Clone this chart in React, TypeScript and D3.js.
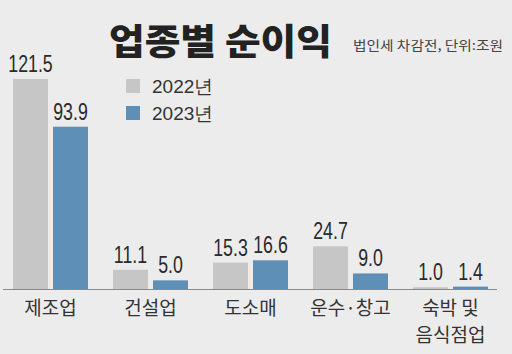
import React, { useEffect, useRef } from "react";
import * as d3 from "d3";

const categories = ["제조업", "건설업", "도소매", "운수·창고", "숙박 및\n음식점업"];
const series = ["2022년", "2023년"];
const values2022 = [121.5, 11.1, 15.3, 24.7, 1.0];
const values2023 = [93.9, 5.0, 16.6, 9.0, 1.4];
const colors = ["#c6c6c6", "#5e8fb6"];

export default function App() {
  const ref = useRef<SVGSVGElement>(null);

  useEffect(() => {
    document.body.style.margin = "0";
    const svg = d3.select(ref.current);
    svg.selectAll("*").remove();

    const W = 512, H = 354;
    const base = 289;
    const kr = "'Noto Sans CJK KR', sans-serif";
    const num = "'Liberation Sans', Arial, sans-serif";

    svg.append("rect").attr("width", W).attr("height", H).attr("fill", "#ececec");

    const x0 = d3.scaleBand().domain(categories).range([0.5, 500.5])
      .paddingInner(0.25).paddingOuter(0.125);
    const x1 = d3.scaleBand().domain(series).range([0, x0.bandwidth()]).paddingInner(0.125);
    const y = d3.scaleLinear().domain([0, 121.5]).range([base, 79]);

    const rows = categories.map((c, i) => ({ c, v: [values2022[i], values2023[i]] }));

    const g = svg.append("g");
    const grp = g.selectAll(".grp").data(rows).join("g")
      .attr("transform", (d) => `translate(${x0(d.c)},0)`);

    const cells = grp.selectAll(".cell")
      .data((d) => series.map((s, j) => ({ s, v: d.v[j], j })))
      .join("g");

    cells.append("rect")
      .attr("x", (d) => x1(d.s)!)
      .attr("y", (d) => y(d.v))
      .attr("width", x1.bandwidth())
      .attr("height", (d) => base - y(d.v))
      .attr("fill", (d) => colors[d.j]);

    // condensed value labels
    cells.append("text")
      .text((d) => d.v.toFixed(1))
      .attr("transform", (d) => `translate(${x1(d.s)! + x1.bandwidth() / 2},${y(d.v) - 7}) scale(0.74,1)`)
      .attr("text-anchor", "middle")
      .attr("font-family", num)
      .attr("font-size", 24)
      .attr("fill", "#2a2a2a");

    // baseline
    g.append("line").attr("x1", 3).attr("x2", 497).attr("y1", base + 0.5).attr("y2", base + 0.5)
      .attr("stroke", "#8a8a8a").attr("stroke-width", 1);

    // category labels
    grp.append("text")
      .attr("x", x0.bandwidth() / 2)
      .attr("y", 315)
      .attr("text-anchor", "middle")
      .attr("font-family", kr)
      .attr("font-size", 19)
      .attr("fill", "#333")
      .selectAll("tspan")
      .data((d) => d.c.split("\n"))
      .join("tspan")
      .attr("x", x0.bandwidth() / 2)
      .attr("dy", (_, i) => (i === 0 ? 0 : 27))
      .text((t) => t);

    // title
    svg.append("text").text("업종별 순이익")
      .attr("x", 109).attr("y", 55)
      .attr("font-family", kr).attr("font-weight", 900).attr("font-size", 36)
      .attr("textLength", 223).attr("lengthAdjust", "spacingAndGlyphs")
      .attr("fill", "#222");
    svg.append("text").text("법인세 차감전, 단위:조원")
      .attr("x", 353).attr("y", 50)
      .attr("font-family", kr).attr("font-size", 13)
      .attr("textLength", 150).attr("lengthAdjust", "spacingAndGlyphs")
      .attr("fill", "#444");

    // legend
    const lg = svg.append("g").selectAll("g").data(series).join("g")
      .attr("transform", (_, i) => `translate(126, ${79 + i * 27})`);
    lg.append("rect").attr("width", 14).attr("height", 14).attr("fill", (_, i) => colors[i]);
    lg.append("text").text((d) => d)
      .attr("x", 26).attr("y", 14)
      .attr("font-family", num)
      .attr("font-size", 19)
      .attr("fill", "#333");
  }, []);

  return <svg ref={ref} width={512} height={354} style={{ display: "block" }} />;
}
